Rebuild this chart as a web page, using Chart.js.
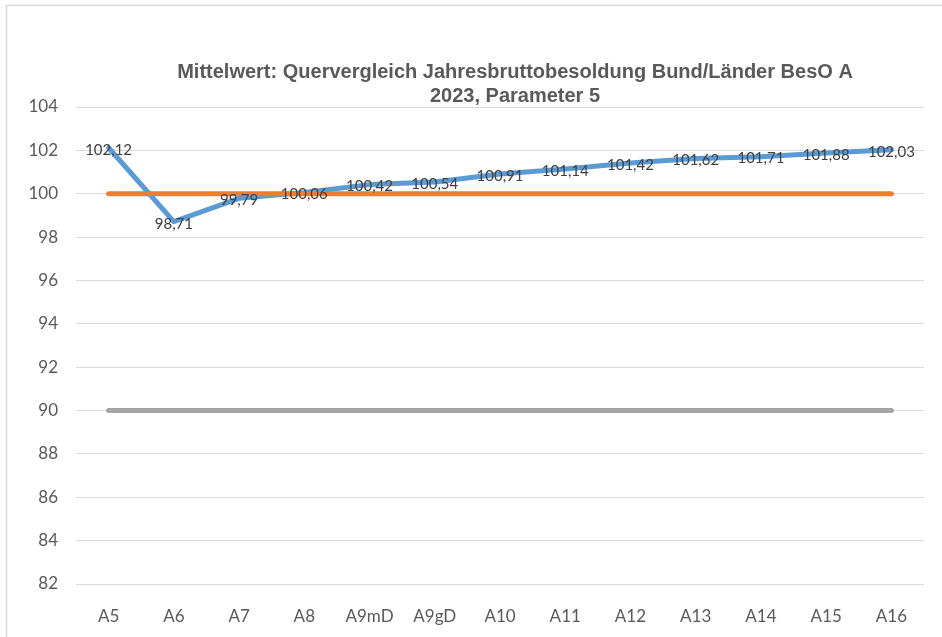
<!DOCTYPE html>
<html>
<head>
<meta charset="utf-8">
<style>
  html, body { margin: 0; padding: 0; background: #fff; }
  #wrap { width: 942px; height: 637px; position: relative; }
</style>
<script src="https://cdn.jsdelivr.net/npm/chart.js@4/dist/chart.umd.min.js"></script>
</head>
<body>
<div id="wrap"><canvas id="chart" width="942" height="637"></canvas></div>
<script>
// categories and series
const categories = ['A5', 'A6', 'A7', 'A8', 'A9mD', 'A9gD', 'A10', 'A11', 'A12', 'A13', 'A14', 'A15', 'A16'];
const meanValues = [102.12, 98.71, 99.79, 100.06, 100.42, 100.54, 100.91, 101.14, 101.42, 101.62, 101.71, 101.88, 102.03];
const line100 = [100, 100, 100, 100, 100, 100, 100, 100, 100, 100, 100, 100, 100];
const line90 = [90, 90, 90, 90, 90, 90, 90, 90, 90, 90, 90, 90, 90];
const titleLines = ['Mittelwert: Quervergleich Jahresbruttobesoldung Bund/Länder BesO A', '2023, Parameter 5'];

// frame + title drawn on the canvas
const framePlugin = {
    id: 'frame',
    beforeDraw(chart) {
        const ctx = chart.ctx;
        ctx.save();
        ctx.strokeStyle = '#D9D9D9';
        ctx.lineWidth = 1.5;
        ctx.strokeRect(6.5, 5.5, 1000, 1000);
        ctx.restore();
    },
    afterDraw(chart) {
        const ctx = chart.ctx;
        ctx.save();
        ctx.fillStyle = '#595959';
        ctx.font = 'bold 20px "Liberation Sans", Arial, sans-serif';
        ctx.textAlign = 'center';
        ctx.textBaseline = 'middle';
        ctx.fillText(titleLines[0], 515, 72);
        ctx.fillText(titleLines[1], 515, 96);
        ctx.restore();
    }
};

// value labels centred on the points of the first series
const valueLabels = {
    id: 'valueLabels',
    afterDatasetsDraw(chart) {
        const ctx = chart.ctx;
        const meta = chart.getDatasetMeta(0);
        ctx.save();
        ctx.fillStyle = '#404040';
        ctx.font = '15px Lato, sans-serif';
        ctx.textAlign = 'center';
        ctx.textBaseline = 'middle';
        meta.data.forEach((pt, i) => {
            const txt = meanValues[i].toFixed(2).replace('.', ',');
            ctx.fillText(txt, pt.x, pt.y + 2);
        });
        ctx.restore();
    }
};

new Chart(document.getElementById('chart').getContext('2d'), {
    type: 'line',
    data: {
        labels: categories,
        datasets: [
            { label: 'Mittelwert', data: meanValues, borderColor: '#5B9BD5', borderWidth: 5, order: 3 },
            { label: '100', data: line100, borderColor: '#ED7D31', borderWidth: 5, order: 2 },
            { label: '90', data: line90, borderColor: '#A5A5A5', borderWidth: 5, order: 1 }
        ]
    },
    options: {
        responsive: false,
        animation: false,
        events: [],
        layout: { padding: { top: 107, right: 18, left: 0, bottom: 0 } },
        elements: {
            point: { radius: 0 },
            line: { tension: 0, borderCapStyle: 'round', borderJoinStyle: 'round', fill: false }
        },
        plugins: {
            legend: { display: false },
            title: { display: false },
            tooltip: { enabled: false }
        },
        scales: {
            x: {
                offset: true,
                grid: { display: false, drawTicks: false },
                border: { display: false },
                ticks: { color: '#595959', font: { family: 'Lato', size: 17 }, padding: 22, maxRotation: 0, autoSkip: false },
                afterFit(scale) { scale.height = 53; }
            },
            y: {
                min: 82,
                max: 104,
                grid: { color: '#D9D9D9', lineWidth: 1, drawTicks: false },
                border: { display: false },
                ticks: { stepSize: 2, color: '#595959', font: { family: 'Lato', size: 17 }, padding: 18 },
                afterFit(scale) { scale.width = 76; }
            }
        }
    },
    plugins: [framePlugin, valueLabels]
});
</script>
</body>
</html>
